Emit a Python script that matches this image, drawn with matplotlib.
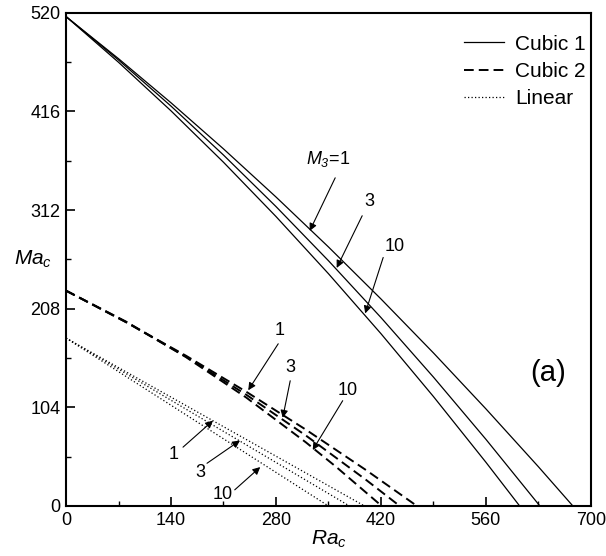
import matplotlib
matplotlib.use("Agg")
import matplotlib.pyplot as plt
from matplotlib.ticker import MultipleLocator

plt.rcParams['font.family'] = ['Liberation Sans', 'DejaVu Sans']
plt.rcParams['mathtext.fontset'] = 'custom'
plt.rcParams['mathtext.rm'] = 'Liberation Sans:italic'
plt.rcParams['mathtext.it'] = 'Liberation Sans:italic'

# Cubic 1 (solid): Ra_c vs Ma_c, M3 = 1, 3, 10
cubic1_m1_ra = [0, 70, 140, 210, 280, 350, 420, 490, 560, 630, 676]
cubic1_m1_ma = [516, 471.6, 425.1, 376.5, 325.8, 273.1, 218.3, 161.4, 102.4, 41.4, 0]
cubic1_m3_ra = [0, 70, 140, 210, 280, 350, 420, 490, 560, 632]
cubic1_m3_ma = [516, 470.2, 421.6, 370.0, 315.7, 258.6, 198.7, 135.9, 70.3, 0]
cubic1_m10_ra = [0, 70, 140, 210, 280, 350, 420, 490, 560, 605]
cubic1_m10_ma = [516, 467.8, 416.6, 362.4, 305.2, 244.9, 181.7, 115.4, 46.1, 0]

# Cubic 2 (dashed)
cubic2_m1_ra = [0, 80, 160, 240, 320, 400, 468]
cubic2_m1_ma = [227, 193.8, 158.4, 120.6, 80.4, 37.9, 0]
cubic2_m3_ra = [0, 80, 160, 240, 320, 400, 445]
cubic2_m3_ma = [227, 193.8, 157.4, 117.5, 74.2, 27.6, 0]
cubic2_m10_ra = [0, 80, 160, 240, 320, 360, 421]
cubic2_m10_ma = [227, 194.4, 156.9, 114.5, 67.0, 41.4, 0]

# Linear (dotted)
linear_m1_ra = [0, 398]
linear_m1_ma = [177, 0]
linear_m3_ra = [0, 378]
linear_m3_ma = [177, 0]
linear_m10_ra = [0, 350]
linear_m10_ma = [177, 0]

x_ticks = [0, 140, 280, 420, 560, 700]
y_ticks = [0, 104, 208, 312, 416, 520]

fig = plt.figure(figsize=(6.06, 5.56), dpi=100)
ax = fig.add_axes([0.109, 0.09, 0.866, 0.887])

lw = 0.9
ax.plot(cubic1_m1_ra, cubic1_m1_ma, '-', color='black', lw=lw, label='Cubic 1')
ax.plot(cubic1_m3_ra, cubic1_m3_ma, '-', color='black', lw=lw)
ax.plot(cubic1_m10_ra, cubic1_m10_ma, '-', color='black', lw=lw)

dash = (0, (5, 2.6))
ax.plot(cubic2_m1_ra, cubic2_m1_ma, color='black', lw=1.4, linestyle=dash, label='Cubic 2')
ax.plot(cubic2_m3_ra, cubic2_m3_ma, color='black', lw=1.4, linestyle=dash)
ax.plot(cubic2_m10_ra, cubic2_m10_ma, color='black', lw=1.4, linestyle=dash)

dot = (0, (1, 1.8))
ax.plot(linear_m1_ra, linear_m1_ma, color='black', lw=0.9, linestyle=dot, label='Linear')
ax.plot(linear_m3_ra, linear_m3_ma, color='black', lw=0.9, linestyle=dot)
ax.plot(linear_m10_ra, linear_m10_ma, color='black', lw=0.9, linestyle=dot)

ax.set_xlim(0, 700)
ax.set_ylim(0, 520)
ax.set_xticks(x_ticks)
ax.set_yticks(y_ticks)
ax.xaxis.set_minor_locator(MultipleLocator(70))
ax.yaxis.set_minor_locator(MultipleLocator(52))
ax.tick_params(which='both', direction='in', top=False, right=False, labelsize=13, pad=4)
ax.tick_params(which='major', length=6.5, width=1.2)
ax.tick_params(which='minor', length=3.5, width=1.0)
for s in ax.spines.values():
    s.set_linewidth(1.5)

ax.set_xlabel('$Ra_c$', fontsize=15, labelpad=0)
ax.text(-0.063, 0.5, '$Ma_c$', fontsize=15, transform=ax.transAxes, ha='center', va='center')

ax.legend(loc='upper right', bbox_to_anchor=(1.0, 0.966), frameon=False, fontsize=15,
          handlelength=1.9, borderaxespad=0, borderpad=0.25, labelspacing=0.39,
          handletextpad=0.55)

arrow = dict(arrowstyle='-|>', color='black', lw=0.8, mutation_scale=11, shrinkA=0, shrinkB=0)

# (text, text position, arrow tail, arrow tip)
annotations = [
    ('$M_3$=1', (349, 366), (359, 346), (325, 290)),
    ('3', (405, 321), (395, 306), (361, 251)),
    ('10', (439, 274), (423, 262), (399, 203)),
    ('1', (285, 185), (283, 171), (243, 122)),
    ('3', (299, 146), (299, 132), (289, 93)),
    ('10', (375, 122), (369, 111), (329, 59)),
    ('1', (143, 54), (156, 62), (196, 90)),
    ('3', (179, 35), (188, 45), (232, 69)),
    ('10', (209, 12), (225, 17), (259, 41)),
]
for label, txt, tail, tip in annotations:
    ax.text(txt[0], txt[1], label, fontsize=13, ha='center', va='center')
    ax.annotate('', xy=tip, xytext=tail, arrowprops=arrow)

ax.text(643, 140, '(a)', fontsize=21, ha='center', va='center')

fig.savefig('out.png', dpi=100)
